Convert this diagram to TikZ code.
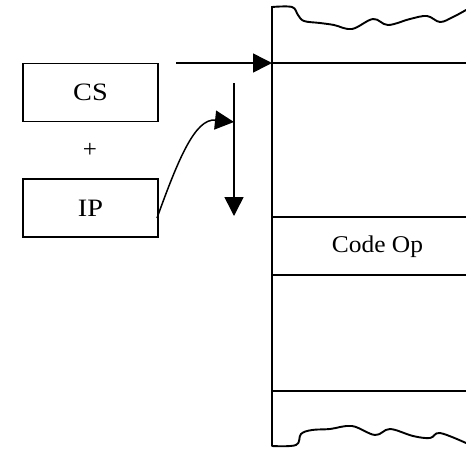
\documentclass[tikz,border=0pt]{standalone}
\usepackage{fontspec}
\setmainfont{Liberation Serif}
\usetikzlibrary{arrows.meta}
\begin{document}
\begin{tikzpicture}[x=1pt,y=-1pt,
  regbox/.style={draw,line width=1.5pt,minimum width=135pt,minimum height=58pt,inner sep=0pt,font=\fontsize{25}{27}\selectfont},
  lbl/.style={inner sep=0pt,font=\fontsize{25}{27}\selectfont},
  memline/.style={line width=1.5pt},
  wave/.style={line width=1.9pt,line cap=round,line join=round},
  arr/.style={line width=1.5pt,-{Triangle[length=19pt,width=19pt]}}]
\useasboundingbox (0,0) rectangle (466,448);
% registers
\node[regbox] (cs) at (90.5,92.5) {\scalebox{1.13}[1]{CS}};
\node[lbl] (plus) at (90,150.5) {+};
\node[regbox] (ip) at (90.5,208) {\scalebox{1.13}[1]{IP}};
% memory
\coordinate (mtop) at (272,6);
\coordinate (mbot) at (272,446);
\draw[memline] (mtop) -- (mbot);
\coordinate (l1a) at (272,63);  \coordinate (l1b) at (466,63);
\coordinate (l2a) at (272,217); \coordinate (l2b) at (466,217);
\coordinate (l3a) at (272,275); \coordinate (l3b) at (466,275);
\coordinate (l4a) at (272,391); \coordinate (l4b) at (466,391);
\draw[memline] (l1a) -- (l1b);
\draw[memline] (l2a) -- (l2b);
\draw[memline] (l3a) -- (l3b);
\draw[memline] (l4a) -- (l4b);
\node[lbl,font=\fontsize{24}{26}\selectfont] (codeop) at (377.5,247) {\scalebox{1.06}[1]{Code Op}};
% wavy cuts
\draw[wave] plot[smooth,tension=0.6] coordinates {(272,7) (292,7) (298,15) (304,21) (320,23) (334,25) (352,29) (373,19) (388,25) (410,19) (427,16) (440,22) (453,17) (466,10)};
\draw[wave] plot[smooth,tension=0.6] coordinates {(272,446) (296,445) (301,434) (312,430) (330,429) (352,426) (375,435) (390,429) (413,436) (430,438) (440,433) (466,443)};
% arrows
\coordinate (hstart) at (176,63);
\draw[arr] (hstart) -- (l1a);
\coordinate (vstart) at (234,83);
\coordinate (vend) at (234,216);
\draw[arr] (vstart) -- (vend);
\coordinate (cstart) at (157,218);
\coordinate (cend) at (234,122);
\draw[arr] (cstart) .. controls (178,160) and (195,118) .. (cend);
\end{tikzpicture}
\end{document}
